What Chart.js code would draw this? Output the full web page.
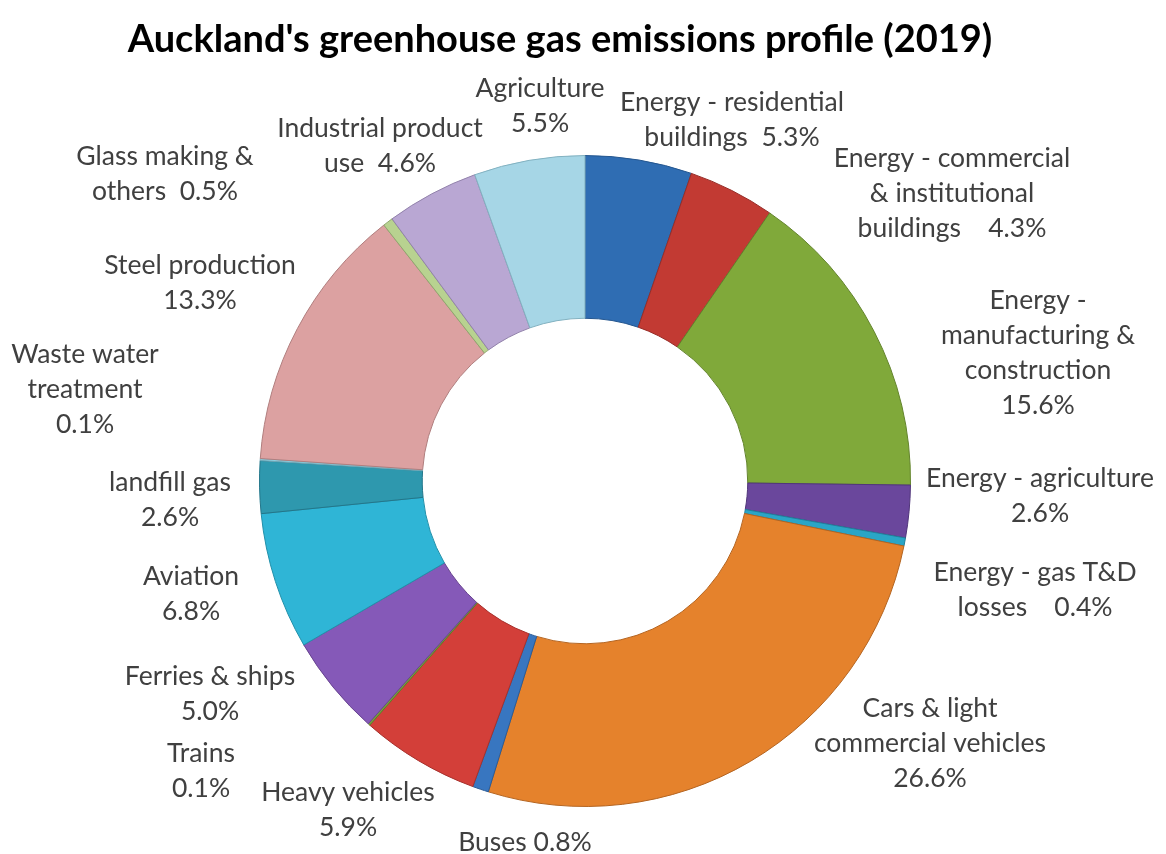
<!DOCTYPE html>
<html>
<head>
<meta charset="utf-8">
<script src="https://cdn.jsdelivr.net/npm/chart.js@4"></script>
<style>
  html, body { margin: 0; padding: 0; background: #ffffff; }
  #wrap { width: 1166px; height: 854px; position: relative; }
</style>
</head>
<body>
<div id="wrap"><canvas id="graphique"></canvas></div>
<script>
// Catégories (dans l'ordre horaire, à partir de midi)
const categories = [
  "Energy - residential buildings",
  "Energy - commercial & institutional buildings",
  "Energy - manufacturing & construction",
  "Energy - agriculture",
  "Energy - gas T&D losses",
  "Cars & light commercial vehicles",
  "Buses",
  "Heavy vehicles",
  "Trains",
  "Ferries & ships",
  "Aviation",
  "landfill gas",
  "Waste water treatment",
  "Steel production",
  "Glass making & others",
  "Industrial product use",
  "Agriculture"
];
// Part des émissions (%)
const parts = [5.3, 4.3, 15.6, 2.6, 0.4, 26.6, 0.8, 5.9, 0.1, 5.0, 6.8, 2.6, 0.1, 13.3, 0.5, 4.6, 5.5];

// Texte des étiquettes (lignes)
const etiquettes = [
  ["Energy - residential", "buildings  5.3%"],
  ["Energy - commercial", "& institutional", "buildings    4.3%"],
  ["Energy -", "manufacturing &", "construction", "15.6%"],
  ["Energy - agriculture", "2.6%"],
  ["Energy - gas T&D", "losses    0.4%"],
  ["Cars & light", "commercial vehicles", "26.6%"],
  ["Buses 0.8%"],
  ["Heavy vehicles", "5.9%"],
  ["Trains", "0.1%"],
  ["Ferries & ships", "5.0%"],
  ["Aviation", "6.8%"],
  ["landfill gas", "2.6%"],
  ["Waste water", "treatment", "0.1%"],
  ["Steel production", "13.3%"],
  ["Glass making &", "others  0.5%"],
  ["Industrial product", "use  4.6%"],
  ["Agriculture", "5.5%"]
];

// Couleurs des parts
const couleurs = [
  "#2f6db3", "#c23a33", "#80a93a", "#6a479c", "#2aa5c6", "#e5822c",
  "#3876c0", "#d33f39", "#7aa03a", "#8559b8", "#2fb5d6", "#2e98ae",
  "#8fcfe0", "#dca1a1", "#b8d290", "#b9a7d3", "#a6d6e6"
];
const bordures = [
  "#24568f", "#962c27", "#62832b", "#50357a", "#1f809b", "#b46420",
  "#2a5b96", "#a6302c", "#5c7b2b", "#68448f", "#2190aa", "#22768a",
  "#6ea7b6", "#b07e7e", "#90a86e", "#9282ab", "#82b1c0"
];

// Position du centre de chaque bloc d'étiquette (mise en page)
const positionEtiquettes = [
  [732, 102], [952, 158], [1038, 300], [1040, 478], [1035, 572], [930, 708],
  [525, 842], [348, 792], [201, 753], [210, 676], [191, 576], [170, 482],
  [85, 354], [200, 265], [165, 156], [380, 128], [540, 88]
];

const titre = "Auckland's greenhouse gas emissions profile (2019)";

const canvas = document.querySelector("#graphique");
canvas.width = 1166;
canvas.height = 854;

// Plugin qui dessine le titre et les étiquettes
const pluginTextes = {
  id: "textes",
  afterDraw(chart) {
    const ctx = chart.ctx;
    ctx.save();
    ctx.fillStyle = "#000000";
    ctx.textAlign = "center";
    ctx.textBaseline = "middle";
    ctx.font = "bold 38px Lato";
    ctx.fillText(titre, 560, 40);

    ctx.fillStyle = "#404040";
    ctx.font = "26.5px Lato";
    for (let i = 0; i < etiquettes.length; i++) {
      const lignes = etiquettes[i];
      const x = positionEtiquettes[i][0];
      let y = positionEtiquettes[i][1];
      for (let j = 0; j < lignes.length; j++) {
        ctx.fillText(lignes[j], x, y + j * 35);
      }
    }
    ctx.restore();
  }
};

const data = {
  labels: categories,
  datasets: [{
    data: parts,
    backgroundColor: couleurs,
    borderColor: bordures,
    borderWidth: 1
  }]
};

const config = {
  type: "doughnut",
  data: data,
  options: {
    responsive: false,
    animation: false,
    cutout: "50%",
    layout: {
      padding: { left: 259, right: 255, top: 155, bottom: 47 }
    },
    plugins: {
      legend: { display: false },
      tooltip: { enabled: false }
    }
  },
  plugins: [pluginTextes]
};

new Chart(canvas, config);
</script>
</body>
</html>
